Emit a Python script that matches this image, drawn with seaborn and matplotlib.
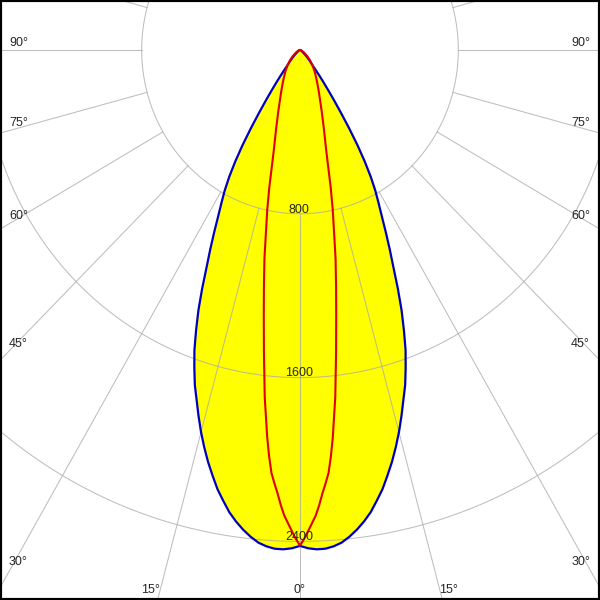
import numpy as np
import matplotlib
matplotlib.use("Agg")
import matplotlib.pyplot as plt
import seaborn as sns

# luminous intensity (cd) vs angle from nadir
blue_angles = [0, 1, 2, 3, 4, 5, 6, 7, 8, 9, 10, 11, 12, 13, 14, 15, 16, 17, 18, 19,
               20, 21, 22, 23, 24, 25, 26, 27, 28, 29, 30, 31, 32, 33, 34, 35, 36, 37,
               38, 39, 40, 42.5, 45, 47.5, 50, 55, 60, 70, 80, 90]
blue_cd = [2422, 2434, 2440, 2439, 2430, 2415, 2390, 2360, 2325, 2285, 2235, 2185, 2125,
           2065, 2000, 1932, 1860, 1787, 1720, 1640, 1560, 1465, 1370, 1265, 1160, 1072,
           988, 910, 845, 785, 715, 635, 548, 455, 370, 300, 242, 197, 160, 127, 102,
           75, 55, 38, 25, 14, 8, 4, 1, 0]

red_angles = [0, 0.5, 1, 1.5, 2, 2.5, 3, 3.5, 4, 4.5, 5, 6, 7, 8, 9, 10, 11, 12, 13, 14, 15,
              17.5, 20, 22.5, 25, 27.5, 30, 35, 40, 45, 50, 60, 70, 80, 90]
red_cd = [2420, 2388, 2350, 2312, 2275, 2225, 2168, 2120, 2070, 1990, 1900, 1705, 1495,
          1315, 1165, 1035, 900, 795, 690, 590, 515, 400, 322, 265, 225, 193, 168, 130,
          98, 72, 50, 22, 8, 3, 0]

ring_values = [800, 1600, 2400, 3200]
ring_labels = ["800", "1600", "2400"]
left_labels = ["90°", "75°", "60°", "45°", "30°"]
right_labels = ["90°", "75°", "60°", "45°", "30°"]
bottom_labels = ["15°", "0°", "15°"]


def polar_xy(angles, cd):
    a = np.radians(angles)
    cd = np.asarray(cd, dtype=float)
    sx = cd * np.sin(a)
    cy = -cd * np.cos(a)
    x = np.concatenate([-sx[::-1], sx[1:]])
    y = np.concatenate([cy[::-1], cy[1:]])
    return x, y


sns.set_style("white")
plt.rcParams['font.family'] = ['Liberation Sans', 'DejaVu Sans']

fig = plt.figure(figsize=(6, 6), dpi=100)
ax = fig.add_axes([0, 0, 1, 1])
ax.set_xlim(-1516, 1516)
ax.set_ylim(-2686, 244)

bx, by = polar_xy(blue_angles, blue_cd)
rx, ry = polar_xy(red_angles, red_cd)

# yellow fill of the wide curve
ax.fill(bx, by, color="#ffff00", zorder=1, lw=0)

# grid: rings and spokes every 15 degrees
grid_col = "#a8a8a8"
t = np.linspace(0, 2 * np.pi, 400)
for r in ring_values:
    ax.plot(r * np.sin(t), r * np.cos(t), color=grid_col, lw=0.75, alpha=0.75, zorder=2)
for deg in range(0, 360, 15):
    a = np.radians(deg)
    ax.plot([800 * np.sin(a), 4000 * np.sin(a)], [-800 * np.cos(a), -4000 * np.cos(a)],
            color=grid_col, lw=0.75, alpha=0.75, zorder=2)

# curves
sns.lineplot(x=bx, y=by, sort=False, estimator=None, color="#0000c0", lw=1.6, ax=ax, zorder=3)
sns.lineplot(x=rx, y=ry, sort=False, estimator=None, color="#e00000", lw=1.5, ax=ax, zorder=4)

for val, lab in zip(ring_values, ring_labels):
    ax.text(-5, -val + 6, lab, ha="center", va="baseline", fontsize=9, zorder=5)

# angle labels (pixel positions)
left_y = [46, 126, 219, 347, 565]
for lab, py in zip(left_labels, left_y):
    ax.text(9 / 600, 1 - py / 600, lab, transform=ax.transAxes, ha="left", va="baseline", fontsize=9)
for lab, py in zip(right_labels, left_y):
    ax.text(590 / 600, 1 - py / 600, lab, transform=ax.transAxes, ha="right", va="baseline", fontsize=9)
for lab, px in zip(bottom_labels, [151, 299, 449]):
    ax.text(px / 600, 1 - 593 / 600, lab, transform=ax.transAxes, ha="center", va="baseline", fontsize=9)

ax.set_xticks([])
ax.set_yticks([])
ax.set_xlabel("")
ax.set_ylabel("")
for s in ax.spines.values():
    s.set_visible(True)
    s.set_color("black")
    s.set_linewidth(3)

fig.savefig("out.png", dpi=100)
